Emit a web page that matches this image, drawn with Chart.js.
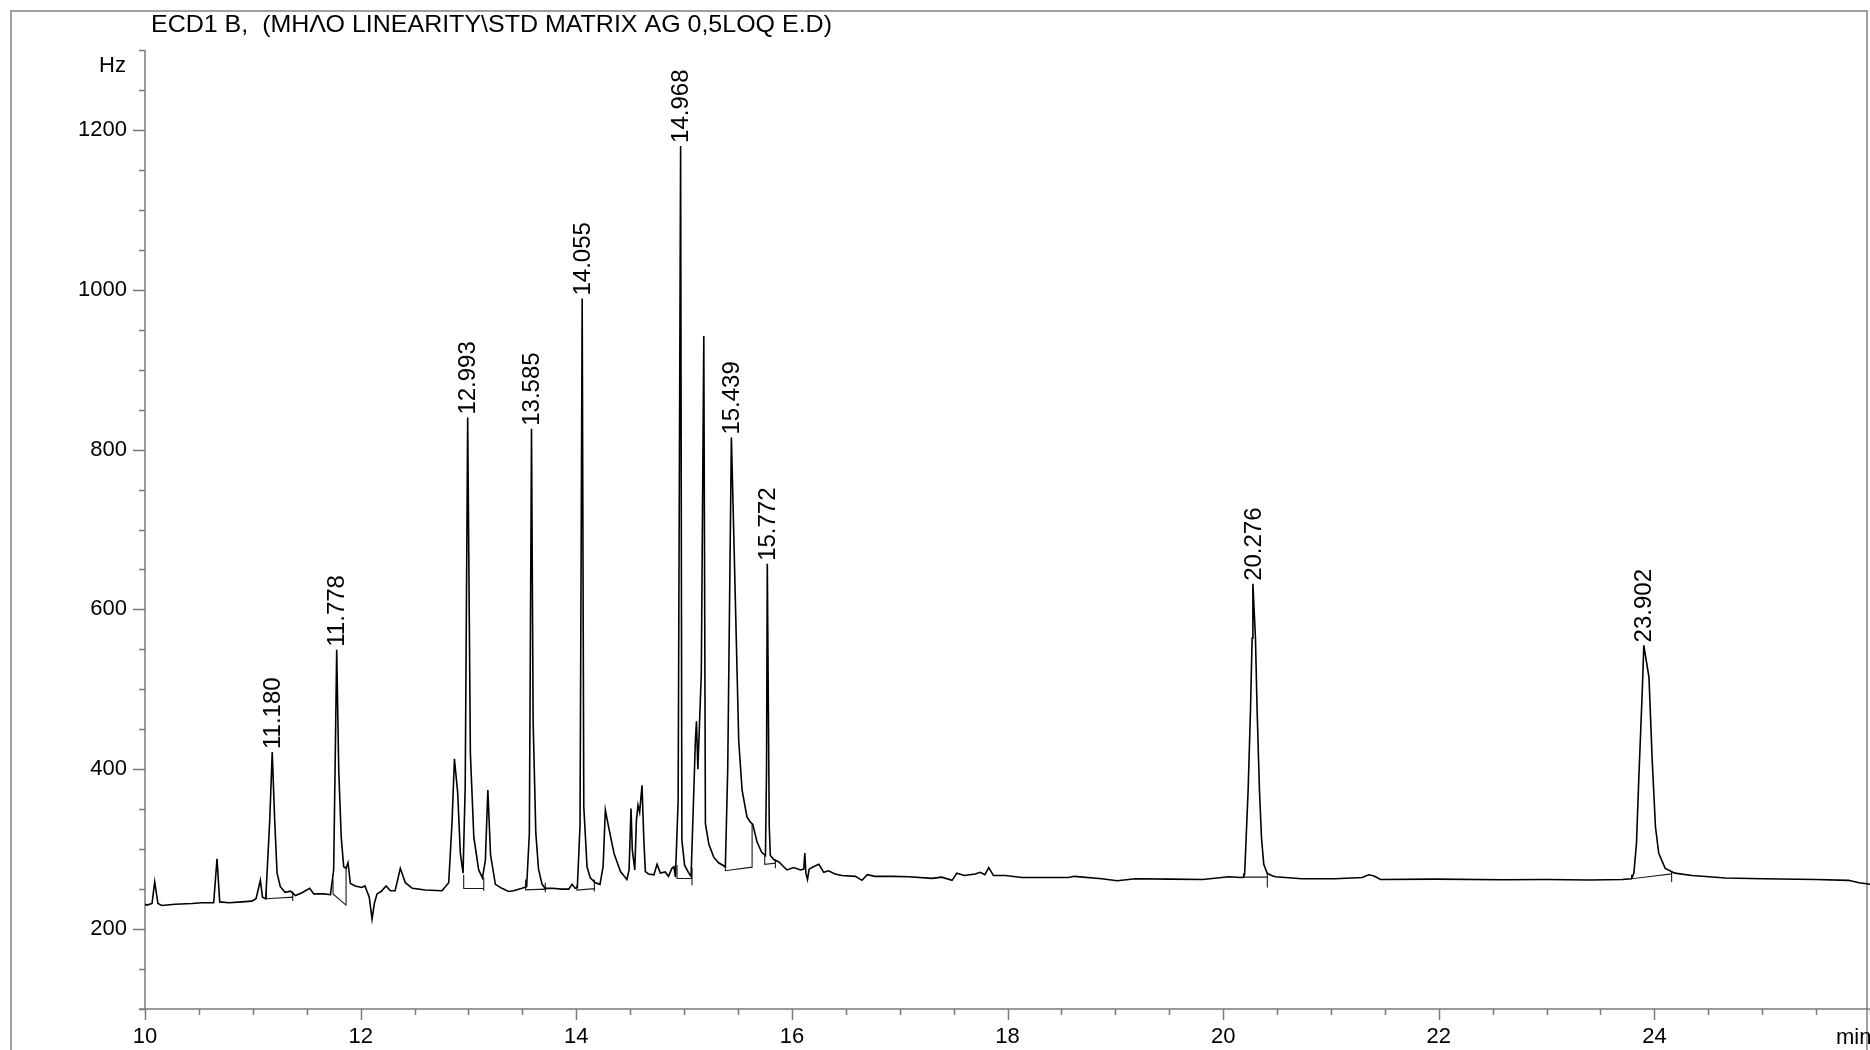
<!DOCTYPE html>
<html>
<head>
<meta charset="utf-8">
<script src="https://cdn.jsdelivr.net/npm/chart.js@4.4.1/dist/chart.umd.min.js"></script>
<style>
  html, body { margin: 0; padding: 0; background: #fff; }
  #wrap { width: 1870px; height: 1050px; }
</style>
</head>
<body>
<div id="wrap"><canvas id="chart" width="1870" height="1050"></canvas></div>
<script>
const TITLE = 'ECD1 B,  (ΜΗΛΟ LINEARITY\\STD MATRIX AG 0,5LOQ E.D)';
const Y_UNIT = 'Hz';
const X_UNIT = 'min';

const xTicks = [10, 12, 14, 16, 18, 20, 22, 24];
const yTicks = [200, 400, 600, 800, 1000, 1200];

// detector trace (min, Hz)
const traceTime = [
  10.00, 10.02, 10.065, 10.09, 10.12, 10.155, 10.28, 10.436, 10.53, 10.637, 10.668, 10.693, 10.78, 10.90, 10.99,
  11.03, 11.07, 11.09, 11.12, 11.157, 11.180, 11.203, 11.225, 11.255, 11.30, 11.35, 11.395, 11.457, 11.528, 11.565,
  11.658, 11.72, 11.75, 11.765, 11.778, 11.797, 11.82, 11.843, 11.865, 11.883, 11.905, 11.95, 12.01, 12.04, 12.08,
  12.106, 12.127, 12.152, 12.19, 12.236, 12.276, 12.32, 12.368, 12.415, 12.48, 12.60, 12.755, 12.817, 12.848, 12.87,
  12.90, 12.925, 12.95, 12.97, 12.993, 13.018, 13.05, 13.095, 13.13, 13.157, 13.18, 13.205, 13.25, 13.31, 13.374,
  13.42, 13.497, 13.54, 13.565, 13.585, 13.60, 13.625, 13.65, 13.683, 13.713, 13.775, 13.868, 13.93, 13.961, 13.99,
  14.01, 14.035, 14.055, 14.07, 14.10, 14.13, 14.177, 14.22, 14.249, 14.27, 14.30, 14.35, 14.41, 14.47, 14.49,
  14.508, 14.52, 14.543, 14.558, 14.573, 14.588, 14.61, 14.626, 14.641, 14.67, 14.72, 14.75, 14.78, 14.825, 14.855,
  14.887, 14.906, 14.92, 14.945, 14.968, 14.98, 15.005, 15.04, 15.065, 15.085, 15.105, 15.115, 15.128, 15.16, 15.183,
  15.198, 15.23, 15.275, 15.32, 15.383, 15.405, 15.439, 15.46, 15.507, 15.538, 15.584, 15.615, 15.637, 15.677, 15.72,
  15.755, 15.765, 15.772, 15.79, 15.80, 15.832, 15.88, 15.924, 15.955, 16.017, 16.08, 16.11, 16.12, 16.13, 16.145,
  16.16, 16.20, 16.25, 16.296, 16.34, 16.40, 16.464, 16.59, 16.65, 16.70, 16.77, 16.93, 17.084, 17.30, 17.39,
  17.486, 17.53, 17.60, 17.70, 17.746, 17.79, 17.826, 17.87, 17.98, 18.135, 18.256, 18.565, 18.62, 18.875, 19.017,
  19.187, 19.50, 19.81, 20.053, 20.16, 20.19, 20.20, 20.232, 20.254, 20.269, 20.276, 20.30, 20.315, 20.337, 20.356,
  20.377, 20.408, 20.45, 20.485, 20.73, 21.04, 21.29, 21.35, 21.40, 21.46, 21.97, 22.59, 23.00, 23.40, 23.70,
  23.788, 23.81, 23.834, 23.856, 23.887, 23.902, 23.95, 23.98, 24.01, 24.04, 24.10, 24.19, 24.35, 24.66, 25.00,
  25.50, 25.80, 25.90, 26.00
];
const traceSignal = [
  231, 230, 232, 259, 232, 229.6, 231, 232, 233, 233, 288, 234, 233, 234, 235,
  238, 261, 240, 238, 336, 421.6, 336, 270, 253, 246, 247.5, 242, 245.5, 251, 244,
  244, 243, 274, 419, 549.6, 399, 315, 278, 276, 283, 257, 254, 252, 254, 240,
  212.5, 232, 244, 247, 254, 248, 248, 276, 258, 251, 249, 248, 258, 334, 413,
  371, 295, 270, 378, 840, 420, 315, 274, 264, 286, 374, 293, 256, 251, 247,
  248, 251, 253, 320, 826, 460, 320, 275, 256, 251, 251, 250, 250, 256, 251,
  252, 330, 989, 353, 278, 264, 258, 256, 278, 349, 328, 295, 272, 262, 274,
  351, 299, 274, 336, 355, 346, 380, 315, 272, 269, 268, 281, 270, 271.5, 266,
  276, 278, 265, 360, 1180, 311, 280, 271, 266, 350, 436, 460, 400, 520, 942,
  332, 306, 290, 283, 278, 400, 815, 700, 436, 374, 340, 334, 331, 309, 296,
  292, 400, 657, 330, 292, 287, 284, 278, 274, 277, 274, 275, 295, 270, 262,
  275, 278, 281, 271, 273, 269, 267, 266, 261, 268, 266, 266, 265.5, 263.5, 265,
  261, 270, 267, 269, 271, 268, 277, 267, 267, 264.6, 264.6, 264.6, 266, 263, 260.4,
  263, 262.5, 262, 265.4, 264.6, 265, 270, 374, 475, 564, 632, 564, 475, 374, 314,
  281, 270, 267, 265.4, 263, 263, 264.6, 268, 266.5, 262, 262.5, 261.7, 262, 261.5, 262,
  263, 270, 307, 390, 495, 555, 515, 411, 328, 295, 276, 270, 267, 264, 263,
  262, 261, 258, 256
];

// labelled peaks
const peakTimes = [11.180, 11.778, 12.993, 13.585, 14.055, 14.968, 15.439, 15.772, 20.276, 23.902];
const peakHeights = [421.6, 549.6, 840, 826, 989, 1180, 815, 657, 632, 555];

// integration baselines: start/end time, baseline level, trace level at the drop lines
const baseT0 = [11.125, 11.744, 12.956, 13.53, 14.007, 14.935, 15.383, 15.748, 20.19, 23.788];
const baseTop0 = [250, 262, 268, 262, 255, 280, 278, 292, 270, 268];
const baseV0 = [238, 244, 250.8, 249, 248.8, 263.3, 273, 281, 265, 263];
const baseT1 = [11.37, 11.865, 13.142, 13.713, 14.168, 15.074, 15.631, 15.847, 20.41, 24.16];
const baseV1 = [240, 230, 250.8, 250, 250.6, 263.3, 277.5, 282.5, 265, 269];
const baseLow1 = [235, 230, 248, 246, 247, 255, 277.5, 276, 252, 259];
const baseTop1 = [247, 278, 265, 258, 262, 277, 332, 287, 270, 272];

const FONT = '"Liberation Sans", Arial, sans-serif';
const AXIS_COLOR = '#7a7a7a';

const datasets = [{
  data: traceTime.map((t, i) => ({ x: t, y: traceSignal[i] })),
  borderColor: '#000',
  borderWidth: 1.6,
  pointRadius: 0,
  tension: 0,
  order: 0
}];
baseT0.forEach((t0, i) => {
  datasets.push({
    data: [
      { x: t0, y: baseTop0[i] },
      { x: t0, y: baseV0[i] },
      { x: baseT1[i], y: baseV1[i] },
      { x: baseT1[i], y: baseLow1[i] },
      { x: baseT1[i], y: baseTop1[i] }
    ],
    borderColor: '#1a1a1a',
    borderWidth: 1.1,
    pointRadius: 0,
    tension: 0,
    order: 1
  });
});

const chromPlugin = {
  id: 'chrom',
  beforeDatasetsDraw(chart) {
    const { ctx, chartArea: a, scales: { x, y } } = chart;
    ctx.save();
    // outer frame
    ctx.strokeStyle = '#a0a0a0';
    ctx.lineWidth = 2;
    ctx.strokeRect(11, 11, 1856, 1100);
    // axes
    ctx.strokeStyle = AXIS_COLOR;
    ctx.lineWidth = 1.5;
    ctx.beginPath();
    ctx.moveTo(a.left, a.top);
    ctx.lineTo(a.left, a.bottom);
    ctx.moveTo(a.left - 6, a.bottom);
    ctx.lineTo(a.right, a.bottom);
    // x ticks, minor every 0.5 min
    for (let t = x.min; t <= x.max + 1e-9; t += 0.5) {
      const px = Math.round(x.getPixelForValue(t)) + 0.5;
      const major = xTicks.includes(t);
      ctx.moveTo(px, a.bottom);
      ctx.lineTo(px, a.bottom + (major ? 11 : 6));
    }
    // y ticks, minor every 50 Hz
    for (let v = y.min; v <= y.max + 1e-9; v += 50) {
      const py = Math.round(y.getPixelForValue(v)) + 0.5;
      const major = yTicks.includes(v);
      ctx.moveTo(a.left, py);
      ctx.lineTo(a.left - (major ? 12 : 6), py);
    }
    ctx.stroke();
    ctx.restore();
  },
  afterDatasetsDraw(chart) {
    const { ctx, scales: { x, y } } = chart;
    ctx.save();
    ctx.fillStyle = '#000';
    ctx.font = '24px ' + FONT;
    ctx.textAlign = 'left';
    ctx.textBaseline = 'middle';
    peakTimes.forEach((t, i) => {
      const px = x.getPixelForValue(t);
      const py = y.getPixelForValue(peakHeights[i]);
      ctx.save();
      ctx.translate(px + 1, py - 3);
      ctx.rotate(-Math.PI / 2);
      ctx.fillText(t.toFixed(3), 0, 0);
      ctx.restore();
    });
    ctx.restore();
  },
  afterDraw(chart) {
    const { ctx } = chart;
    ctx.save();
    ctx.fillStyle = '#000';
    ctx.textBaseline = 'middle';
    // title, drawn condensed like the original
    ctx.font = '24px ' + FONT;
    const w = ctx.measureText(TITLE).width;
    ctx.save();
    ctx.translate(151, 25);
    ctx.scale(681 / w, 1);
    ctx.textAlign = 'left';
    ctx.fillText(TITLE, 0, 0);
    ctx.restore();
    ctx.font = '22px ' + FONT;
    ctx.textAlign = 'right';
    ctx.fillText(Y_UNIT, 126, 66);
    ctx.textAlign = 'left';
    ctx.fillText(X_UNIT, 1836, 1038);
    ctx.restore();
  }
};

new Chart(document.getElementById('chart'), {
  type: 'line',
  data: { datasets },
  options: {
    responsive: false,
    animation: false,
    devicePixelRatio: 1,
    layout: { padding: { top: 50, right: 0, left: 0, bottom: 0 } },
    plugins: { legend: { display: false }, tooltip: { enabled: false }, title: { display: false } },
    scales: {
      x: {
        type: 'linear',
        min: 10,
        max: 26,
        grid: { display: false, drawTicks: false },
        border: { display: false },
        afterBuildTicks: s => { s.ticks = xTicks.map(v => ({ value: v })); },
        afterFit: s => { s.height = 41; },
        ticks: {
          font: { family: FONT, size: 22 },
          color: '#000',
          padding: 15,
          maxRotation: 0,
          autoSkip: false,
          callback: v => String(v)
        }
      },
      y: {
        type: 'linear',
        min: 100,
        max: 1300,
        grid: { display: false, drawTicks: false },
        border: { display: false },
        afterBuildTicks: s => { s.ticks = yTicks.map(v => ({ value: v })); },
        afterFit: s => { s.width = 145; },
        ticks: {
          font: { family: FONT, size: 22 },
          color: '#000',
          padding: 18,
          callback: v => String(v)
        }
      }
    }
  },
  plugins: [chromPlugin]
});
</script>
</body>
</html>
